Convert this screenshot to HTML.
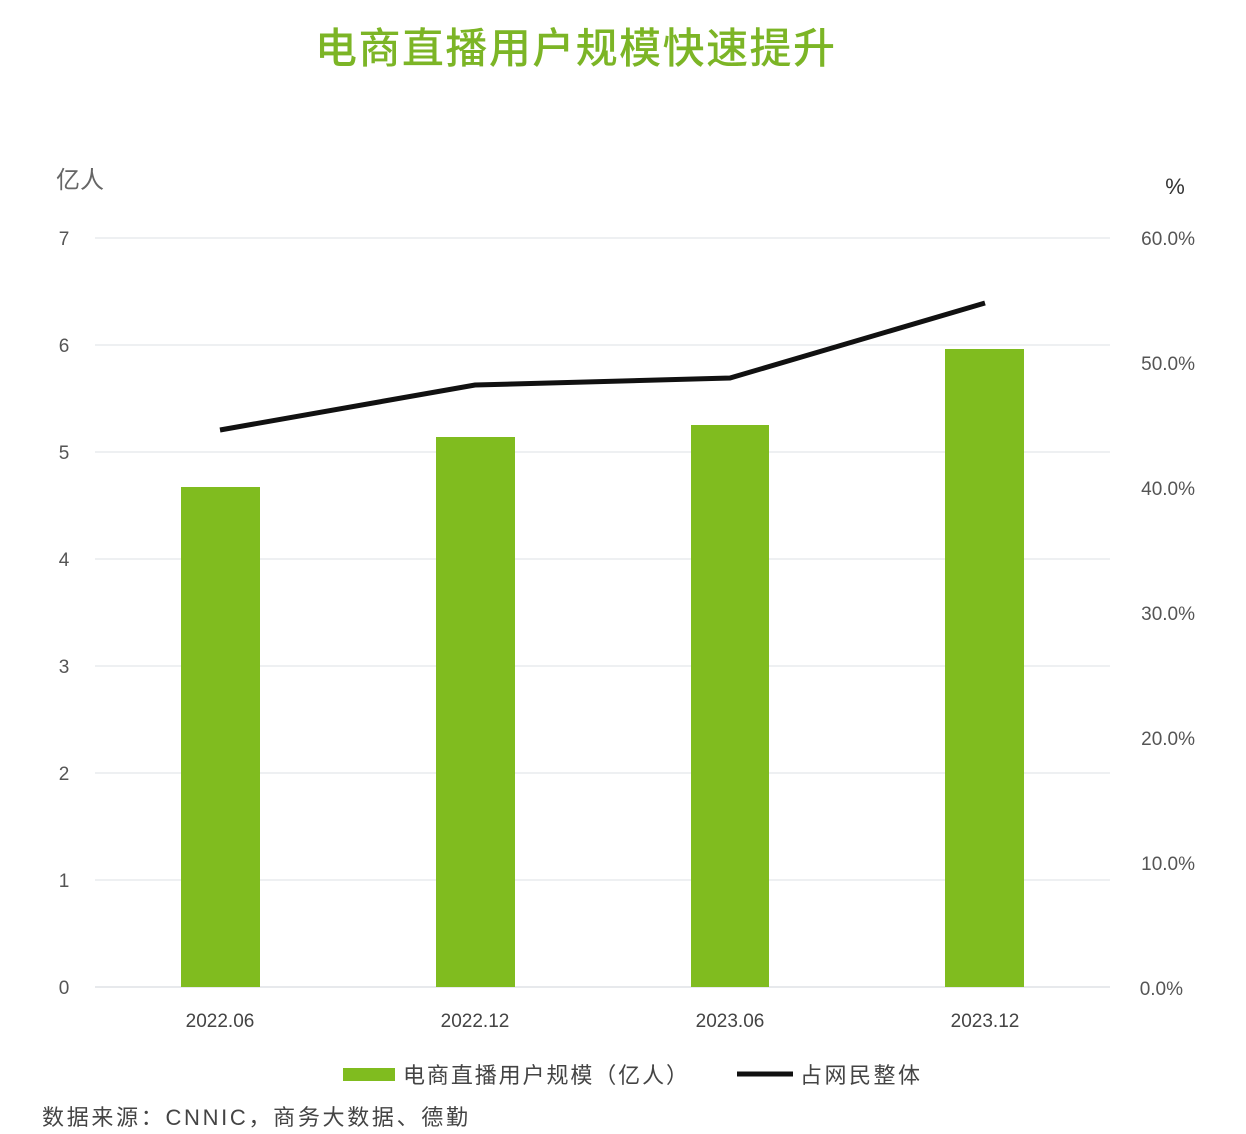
<!DOCTYPE html>
<html><head><meta charset="utf-8"><style>
html,body{margin:0;padding:0;background:#fff;}
svg{display:block;}
text{font-family:"Liberation Sans","Noto Sans CJK SC",sans-serif;}
</style></head><body>
<svg width="1246" height="1134" viewBox="0 0 1246 1134" xmlns="http://www.w3.org/2000/svg">
<rect width="1246" height="1134" fill="#fff"/>
<text x="575" y="63" text-anchor="middle" font-size="42" fill="#7cb526" font-weight="500" textLength="520" lengthAdjust="spacing">电商直播用户规模快速提升</text>
<text x="56" y="188" font-size="24" fill="#666">亿人</text>
<text x="1175" y="194" text-anchor="middle" font-size="22" fill="#333">%</text>
<g stroke="#dde0e6" stroke-width="1">
<line x1="95" y1="238" x2="1110" y2="238"/>
<line x1="95" y1="345" x2="1110" y2="345"/>
<line x1="95" y1="452" x2="1110" y2="452"/>
<line x1="95" y1="559" x2="1110" y2="559"/>
<line x1="95" y1="666" x2="1110" y2="666"/>
<line x1="95" y1="773" x2="1110" y2="773"/>
<line x1="95" y1="880" x2="1110" y2="880"/>
<line x1="95" y1="987" x2="1110" y2="987" stroke="#cfd3da"/>
</g>
<g font-size="19" fill="#555" text-anchor="middle">
<text x="64" y="245">7</text><text x="64" y="352">6</text><text x="64" y="459">5</text><text x="64" y="566">4</text>
<text x="64" y="673">3</text><text x="64" y="780">2</text><text x="64" y="887">1</text><text x="64" y="994">0</text>
</g>
<g font-size="19" fill="#555" text-anchor="end">
<text x="1195" y="245">60.0%</text><text x="1195" y="370">50.0%</text><text x="1195" y="495">40.0%</text>
<text x="1195" y="620">30.0%</text><text x="1195" y="745">20.0%</text><text x="1195" y="870">10.0%</text>
<text x="1183" y="995">0.0%</text>
</g>
<g fill="#80bc1f">
<rect x="181" y="487" width="79" height="500"/>
<rect x="436" y="437" width="79" height="550"/>
<rect x="691" y="425" width="78" height="562"/>
<rect x="945" y="349" width="79" height="638"/>
</g>
<polyline points="220,430 475,385 730,378 985,303" fill="none" stroke="#111" stroke-width="5"/>
<g font-size="19" fill="#444" text-anchor="middle">
<text x="220" y="1027">2022.06</text><text x="475" y="1027">2022.12</text>
<text x="730" y="1027">2023.06</text><text x="985" y="1027">2023.12</text>
</g>
<rect x="343" y="1068" width="52" height="13" fill="#80bc1f"/>
<text x="403" y="1083" font-size="22" fill="#444" textLength="285" lengthAdjust="spacing">电商直播用户规模（亿人）</text>
<line x1="737" y1="1074" x2="793" y2="1074" stroke="#111" stroke-width="5"/>
<text x="800" y="1083" font-size="22" fill="#444" textLength="120" lengthAdjust="spacing">占网民整体</text>
<text x="42" y="1125" font-size="22" fill="#444" textLength="426" lengthAdjust="spacing">数据来源：CNNIC，商务大数据、德勤</text>
</svg>
</body></html>
